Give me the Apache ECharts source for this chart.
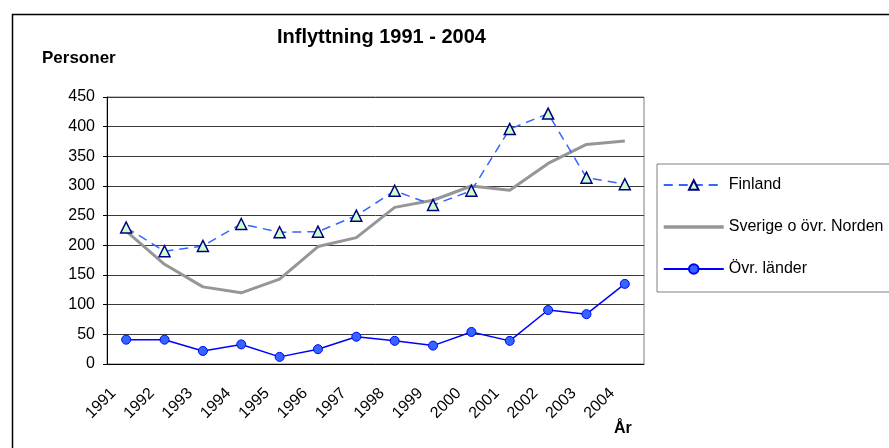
<!DOCTYPE html>
<html>
<head>
<meta charset="utf-8">
<script src="https://cdn.jsdelivr.net/npm/echarts@6/dist/echarts.min.js"></script>
<style>
  html, body { margin: 0; padding: 0; background: #fff; }
  #chart { width: 889px; height: 448px; }
</style>
</head>
<body>
<div id="chart"></div>
<script>
// data
const years = ['1991', '1992', '1993', '1994', '1995', '1996', '1997',
  '1998', '1999', '2000', '2001', '2002', '2003', '2004'];
const finland = [230, 190, 199, 236, 222, 223, 250, 292, 268, 292, 396, 422, 314, 303];
const norden = [224, 168, 130, 120, 143, 198, 213, 264, 276, 300, 293, 338, 370, 376];
const ovrLander = [41, 41, 22, 33, 12, 25, 46, 39, 31, 54, 39, 91, 84, 135];
const yTicks = [0, 50, 100, 150, 200, 250, 300, 350, 400, 450];

const font = 'Liberation Sans, Arial, sans-serif';
const chart = echarts.init(document.getElementById('chart'));

chart.setOption({
  animation: false,
  textStyle: { fontFamily: font },
  graphic: [
    { // outer chart frame
      type: 'rect', left: 10, top: 12, silent: true,
      shape: { width: 1000, height: 1000 },
      style: { fill: 'none', stroke: '#000', lineWidth: 1.5 }
    },
    {
      type: 'text', left: 277, top: 27,
      style: { text: 'Inflyttning 1991 - 2004', font: 'bold 20px ' + font, fill: '#000' }
    },
    {
      type: 'text', left: 42, top: 50,
      style: { text: 'Personer', font: 'bold 17px ' + font, fill: '#000' }
    },
    {
      type: 'text', left: 614, top: 421,
      style: { text: 'År', font: 'bold 16px ' + font, fill: '#000' }
    }
  ],
  legend: {
    orient: 'vertical',
    left: 657, top: 164,
    padding: [13, 200, 15, 5],
    itemGap: 26,
    itemWidth: 60,
    itemHeight: 12,
    borderColor: '#808080',
    borderWidth: 1,
    textStyle: { fontSize: 16, color: '#000', fontFamily: font },
    data: [
      'Finland',
      { name: 'Sverige o övr. Norden', itemStyle: { opacity: 0 }, lineStyle: { width: 3.5 } },
      'Övr. länder'
    ]
  },
  grid: { left: 107, top: 97, width: 537, height: 267, show: true, borderColor: '#808080', borderWidth: 1 },
  xAxis: {
    type: 'category',
    data: years,
    boundaryGap: true,
    axisLine: { lineStyle: { color: '#000', width: 1 } },
    axisTick: { length: 5, lineStyle: { color: '#000' } },
    axisLabel: { rotate: 45, fontSize: 16, color: '#000', margin: 14, padding: [0, 18, 0, 0] },
    splitLine: { show: false }
  },
  yAxis: {
    type: 'value',
    min: 0, max: 450, interval: 50,
    axisLine: { show: true, lineStyle: { color: '#000', width: 1 } },
    axisTick: { show: true, inside: false, length: 4, lineStyle: { color: '#000' } },
    axisLabel: {
      fontSize: 16, color: '#000', margin: 12,
      formatter: v => yTicks.includes(v) ? String(v) : ''
    },
    splitLine: { lineStyle: { color: '#3a3a3a', width: 1 } }
  },
  series: [
    {
      name: 'Finland',
      type: 'line',
      data: finland,
      symbol: 'triangle',
      symbolSize: 11,
      lineStyle: { color: '#3366ff', width: 1.5, type: [9, 6] },
      itemStyle: { color: '#ccffcc', borderColor: '#000080', borderWidth: 1.5 },
      z: 3
    },
    {
      name: 'Sverige o övr. Norden',
      type: 'line',
      data: norden,
      symbol: 'none',
      lineStyle: { color: '#969696', width: 3 },
      itemStyle: { color: '#969696' },
      z: 2
    },
    {
      name: 'Övr. länder',
      type: 'line',
      data: ovrLander,
      symbol: 'circle',
      symbolSize: 9,
      lineStyle: { color: '#0000ff', width: 1.5 },
      itemStyle: { color: '#3366ff', borderColor: '#0000ff', borderWidth: 1 },
      z: 4
    }
  ]
});
</script>
</body>
</html>
